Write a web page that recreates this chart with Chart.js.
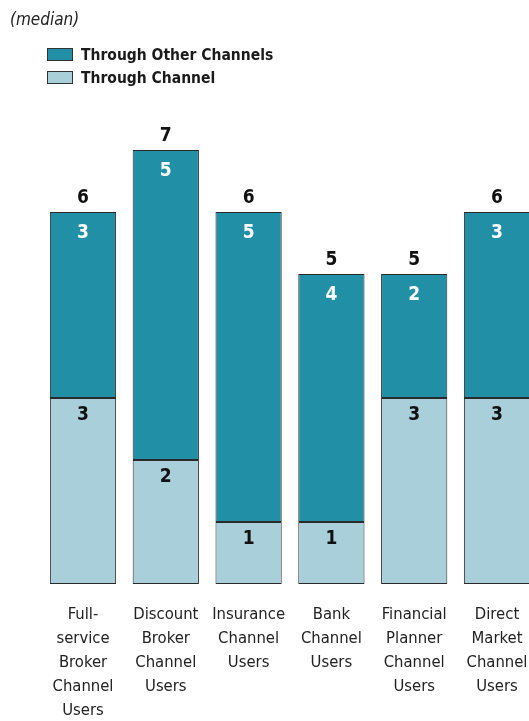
<!DOCTYPE html>
<html>
<head>
<meta charset="utf-8">
<script src="https://cdn.jsdelivr.net/npm/chart.js@4.4.0/dist/chart.umd.min.js"></script>
<style>
    html, body { margin: 0; padding: 0; background: #fff; overflow: hidden; }
    #wrap { position: relative; width: 529px; height: 721px; overflow: hidden; }
    #chart-box { position: absolute; left: 0; top: 0; width: 540px; height: 721px; }
    #note {
        position: absolute; left: 10px; top: 9px;
        font: italic 17px "DejaVu Sans Condensed", sans-serif;
        color: #222;
    }
    #legend { position: absolute; left: 47px; top: 43px; }
    .item {
        display: flex; align-items: center; height: 23px;
        font: bold 15.5px "DejaVu Sans Condensed", sans-serif;
        color: #1a1a1a;
    }
    .swatch { width: 24px; height: 11px; border: 1px solid #333; margin-right: 8px; }
</style>
</head>
<body>
<div id="wrap">
    <div id="chart-box"><canvas id="channels-chart" width="540" height="721"></canvas></div>
    <div id="note">(median)</div>
    <div id="legend"></div>
</div>
<script>
// Categories and median counts per segment
const categories = [
    ['Full-', 'service', 'Broker', 'Channel', 'Users'],
    ['Discount', 'Broker', 'Channel', 'Users'],
    ['Insurance', 'Channel', 'Users'],
    ['Bank', 'Channel', 'Users'],
    ['Financial', 'Planner', 'Channel', 'Users'],
    ['Direct', 'Market', 'Channel', 'Users']
];
const throughChannel = [3, 2, 1, 1, 3, 3];
const throughOtherChannels = [3, 5, 5, 4, 2, 3];

const seriesNames = ['Through Channel', 'Through Other Channels'];
const seriesColors = ['#a9cfda', '#218fa5'];
const labelColors = ['#111', '#fff'];

const FONT = '"DejaVu Sans Condensed", sans-serif';

// Legend, top series first
const legendEl = document.getElementById('legend');
[1, 0].forEach(i => {
    const row = document.createElement('div');
    row.className = 'item';
    row.innerHTML = `<span class="swatch" style="background:${seriesColors[i]}"></span>${seriesNames[i]}`;
    legendEl.appendChild(row);
});

// Segment values near the top of each segment, totals above the stack
const valueLabels = {
    id: 'valueLabels',
    afterDatasetsDraw(chart) {
        const ctx = chart.ctx;
        ctx.save();
        ctx.font = `bold 19px ${FONT}`;
        ctx.textAlign = 'center';
        ctx.textBaseline = 'middle';
        chart.data.datasets.forEach((ds, di) => {
            const meta = chart.getDatasetMeta(di);
            meta.data.forEach((bar, i) => {
                ctx.fillStyle = labelColors[di];
                ctx.fillText(String(ds.data[i]), bar.x, bar.y + (di === 0 ? 17 : 21));
            });
        });
        const topMeta = chart.getDatasetMeta(1);
        topMeta.data.forEach((bar, i) => {
            const total = throughChannel[i] + throughOtherChannels[i];
            ctx.fillStyle = '#111';
            ctx.fillText(String(total), bar.x, bar.y - 14);
        });
        ctx.restore();
    }
};

new Chart(document.getElementById('channels-chart'), {
    type: 'bar',
    data: {
        labels: categories,
        datasets: [
            {
                label: seriesNames[0],
                data: throughChannel,
                backgroundColor: seriesColors[0],
                borderColor: '#2a2a2a',
                borderWidth: 1,
                borderSkipped: false
            },
            {
                label: seriesNames[1],
                data: throughOtherChannels,
                backgroundColor: seriesColors[1],
                borderColor: '#2a2a2a',
                borderWidth: 1,
                borderSkipped: false
            }
        ]
    },
    options: {
        responsive: false,
        animation: false,
        barPercentage: 0.8,
        categoryPercentage: 1.0,
        layout: { padding: { left: 41.6, right: 1.6, top: 88, bottom: 0 } },
        plugins: {
            legend: { display: false },
            tooltip: { enabled: false }
        },
        scales: {
            x: {
                stacked: true,
                grid: { display: false, drawTicks: false },
                border: { display: false },
                ticks: {
                    color: '#222',
                    padding: 19,
                    maxRotation: 0,
                    autoSkip: false,
                    font: { family: FONT, size: 16.5, lineHeight: 1.45 }
                },
                // fixed axis band so the baseline sits where it should
                afterFit(scale) {
                    scale.height = 137;
                    scale.paddingLeft = 0;
                    scale.paddingRight = 0;
                }
            },
            y: {
                stacked: true,
                display: false,
                min: 0,
                max: 8
            }
        }
    },
    plugins: [valueLabels]
});
</script>
</body>
</html>
